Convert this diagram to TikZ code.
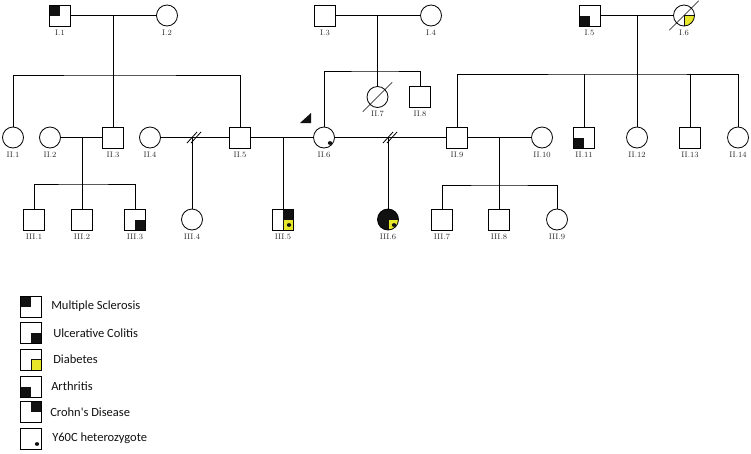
\documentclass[tikz,border=0pt]{standalone}
\usepackage{fontspec}
\newfontfamily\keyfont{Carlito}
\usepackage{tikz}
\usetikzlibrary{positioning}
\definecolor{Ink}{HTML}{111111}
\definecolor{LabelInk}{HTML}{2A2A2A}
\definecolor{Diab}{HTML}{E8E62A}
\newcommand{\ppMS}{\fill[Ink] (path picture bounding box.north west) rectangle (path picture bounding box.center);}
\newcommand{\ppUC}{\fill[Ink] (path picture bounding box.south east) rectangle (path picture bounding box.center);}
\newcommand{\ppDB}{\filldraw[fill=Diab,draw=Ink,line width=0.7pt] (path picture bounding box.south east) rectangle (path picture bounding box.center);}
\newcommand{\ppAR}{\fill[Ink] (path picture bounding box.south west) rectangle (path picture bounding box.center);}
\newcommand{\ppCD}{\fill[Ink] (path picture bounding box.north east) rectangle (path picture bounding box.center);}
\newcommand{\ppDot}{\fill[Ink] ([shift={(6,5.5)}]path picture bounding box.center) ellipse (2.2pt and 1.9pt);}
\newcommand{\splitmark}[1]{\draw ([shift={(-5,5.5)}]#1) -- ++(10,-11) ([shift={(-1,5.5)}]#1) -- ++(10,-11);}

\begin{document}
\begin{tikzpicture}[x=1pt,y=-1pt,line width=0.8pt,
  ind/.style={draw,line width=0.8pt,minimum size=21pt,inner sep=0pt},
  male/.style={ind,rectangle},
  female/.style={ind,circle},
  lbl/.style={font=\fontsize{8}{9}\selectfont,inner sep=1pt,label distance=2pt,text=LabelInk},
  keybox/.style={draw,rectangle,line width=0.7pt,minimum size=21pt,inner sep=0pt},
  keytext/.style={font=\keyfont\fontsize{12.5}{14}\selectfont,text=Ink,inner sep=0pt}]
\useasboundingbox (0,0) rectangle (751,453);
\node[male,path picture={\ppMS},label={[lbl]below:I.1}] (I1) at (60,15.5) {};
\node[female,label={[lbl]below:I.2}] (I2) at (167,15.5) {};
\node[male,label={[lbl]below:I.3}] (I3) at (325,15.5) {};
\node[female,label={[lbl]below:I.4}] (I4) at (431,15.5) {};
\node[male,path picture={\ppAR},label={[lbl]below:I.5}] (I5) at (589.5,15.5) {};
\node[female,path picture={\ppDB},label={[lbl]below:I.6}] (I6) at (684,15.5) {};
\node[female,label={[lbl]below:II.1}] (II1) at (13,137.5) {};
\node[female,label={[lbl]below:II.2}] (II2) at (50,137.5) {};
\node[male,label={[lbl]below:II.3}] (II3) at (113,137.5) {};
\node[female,label={[lbl]below:II.4}] (II4) at (150,137.5) {};
\node[male,label={[lbl]below:II.5}] (II5) at (240,137.5) {};
\node[female,path picture={\ppDot},label={[lbl]below:II.6}] (II6) at (324,137.5) {};
\node[female,label={[lbl]below:II.7}] (II7) at (377.5,97) {};
\node[male,label={[lbl]below:II.8}] (II8) at (420,97) {};
\node[male,label={[lbl]below:II.9}] (II9) at (457,137.5) {};
\node[female,label={[lbl]below:II.10}] (II10) at (542,137.5) {};
\node[male,path picture={\ppAR},label={[lbl]below:II.11}] (II11) at (584,137.5) {};
\node[female,label={[lbl]below:II.12}] (II12) at (637,137.5) {};
\node[male,label={[lbl]below:II.13}] (II13) at (690,137.5) {};
\node[female,label={[lbl]below:II.14}] (II14) at (738,137.5) {};
\node[male,label={[lbl]below:III.1}] (III1) at (34,219.5) {};
\node[male,label={[lbl]below:III.2}] (III2) at (82,219.5) {};
\node[male,path picture={\ppUC},label={[lbl]below:III.3}] (III3) at (135,219.5) {};
\node[female,label={[lbl]below:III.4}] (III4) at (192,219.5) {};
\node[male,path picture={\ppCD\ppDB\ppDot},label={[lbl]below:III.5}] (III5) at (283,219.5) {};
\node[female,fill=Ink,path picture={\ppDB\ppDot},label={[lbl]below:III.6}] (III6) at (388,219.5) {};
\node[male,label={[lbl]below:III.7}] (III7) at (442,219.5) {};
\node[male,label={[lbl]below:III.8}] (III8) at (499,219.5) {};
\node[female,label={[lbl]below:III.9}] (III9) at (557,219.5) {};
\coordinate (m1) at (113,15.5);
\coordinate (s1) at (113,75);
\coordinate (m2) at (377.5,15.5);
\coordinate (s2) at (377.5,71);
\coordinate (m3) at (637,15.5);
\coordinate (s3) at (637,74);
\coordinate (m4) at (82,137.5);
\coordinate (s4) at (82,184);
\coordinate (m5) at (192,137.5);
\coordinate (m6) at (283,137.5);
\coordinate (m7) at (388,137.5);
\coordinate (m8) at (499,137.5);
\coordinate (s8) at (499,185);
\draw (I1) -- (I2);
\draw (m1) -- (II3);
\draw (II1) |- (s1) -| (II5);
\draw (I3) -- (I4);
\draw (m2) -- (II7);
\draw (II6) |- (s2) -| (II8);
\draw (I5) -- (I6);
\draw (m3) -- (II12);
\draw (II9) |- (s3) -| (II14);
\draw (II11) -- (II11 |- s3);
\draw (II13) -- (II13 |- s3);
\draw (II2) -- (II3);
\draw (m4) -- (III2);
\draw (III1) |- (s4) -| (III3);
\draw (II4) -- (II5);
\draw (m5) -- (III4);
\splitmark{m5}
\draw (II5) -- (II6);
\draw (m6) -- (III5);
\draw (II6) -- (II9);
\draw (m7) -- (III6);
\splitmark{m7}
\draw (II9) -- (II10);
\draw (m8) -- (III8);
\draw (III7) |- (s8) -| (III9);
\draw[line width=0.6pt] ([shift={(-7,7)}]I6.south west) -- ([shift={(7,-7)}]I6.north east);
\draw[line width=0.6pt] ([shift={(-7,7)}]II7.south west) -- ([shift={(7,-7)}]II7.north east);
\fill[Ink] (300,123) -- (311,123) -- (311,113) -- cycle;
\node[keybox,path picture={\ppMS}] (k1) at (31,306.5) {};
\node[keytext,right=9pt of k1] (t1) {Multiple Sclerosis};
\node[keybox,path picture={\ppUC}] (k2) at (31,333) {};
\node[keytext,right=11pt of k2] (t2) {Ulcerative Colitis};
\node[keybox,path picture={\ppDB}] (k3) at (31,359.5) {};
\node[keytext,right=11pt of k3] (t3) {Diabetes};
\node[keybox,path picture={\ppAR}] (k4) at (31,386.5) {};
\node[keytext,right=9pt of k4] (t4) {Arthritis};
\node[keybox,path picture={\ppCD}] (k5) at (31,412) {};
\node[keytext,right=8pt of k5] (t5) {Crohn's Disease};
\node[keybox,path picture={\ppDot}] (k6) at (31,438.5) {};
\node[keytext,right=10pt of k6] (t6) {Y60C heterozygote};
\end{tikzpicture}
\end{document}
